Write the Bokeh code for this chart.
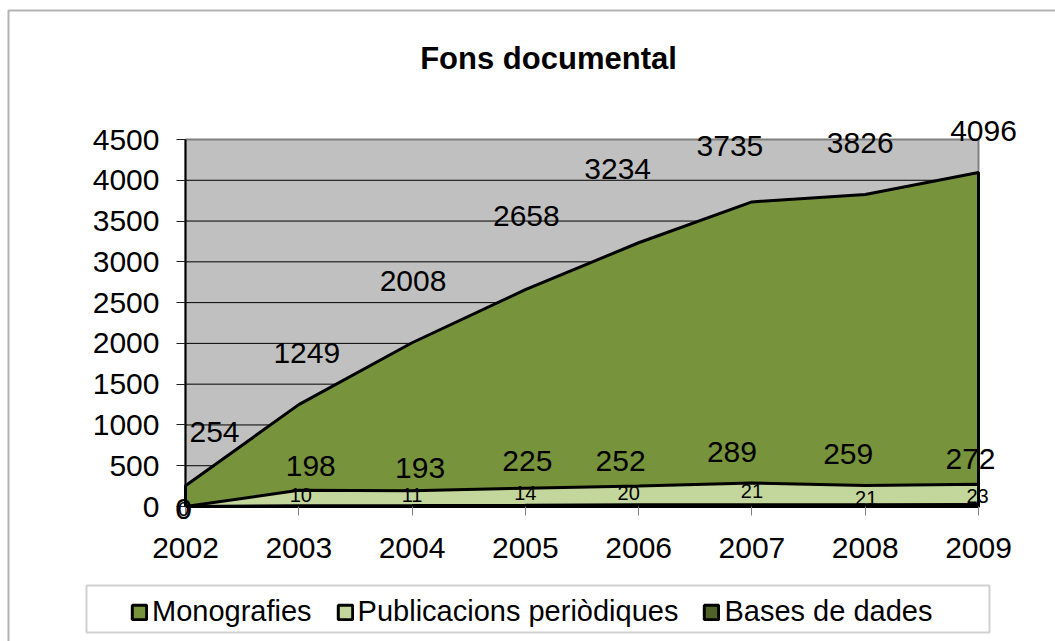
from bokeh.plotting import figure
from bokeh.models import (ColumnDataSource, FixedTicker, Legend, LegendItem,
                          LabelSet, Label, BoxAnnotation)
from bokeh.core.properties import value
from bokeh.embed import file_html
from bokeh.resources import INLINE

years = ["2002", "2003", "2004", "2005", "2006", "2007", "2008", "2009"]
monografies = [254, 1249, 2008, 2658, 3234, 3735, 3826, 4096]
publicacions = [0, 198, 193, 225, 252, 289, 259, 272]
bases = [0, 10, 11, 14, 20, 21, 21, 23]
series_names = ["Monografies", "Publicacions periòdiques", "Bases de dades"]
colors = ["#77933C", "#C3D69B", "#4F6228"]
y_ticks = [0, 500, 1000, 1500, 2000, 2500, 3000, 3500, 4000, 4500]

# label nudges in screen pixels (where the original placed its data labels)
mono_dx = [29, 8, 1, 1, -21, -22, -5, 5]
mono_dy = [54, 52, 62, 74, 74, 56, 51, 41]
publ_dx = [-2, 12, 8, 2, -18, -20, -17, -8]
publ_dy = [-2, 24, 23, 27, 25, 31, 31, 25]
base_dx = [-2, 2, 0, 0, -10, 0, 1, -1]
base_dy = [-2, 11, 11, 12, 12, 14, 7, 9]

FONT = "Liberation Sans"
idx = list(range(len(years)))
XMAX = len(years) - 1
YMAX = y_ticks[-1]

W, H = 1055, 641
# plot-area geometry in canvas pixels (used only to place decorations)
FX0, FXW, FY0, FYH = 185, 793, 506, 367
def sx(px):
    return (px - FX0) / FXW * XMAX
def sy(py):
    return (FY0 - py) / FYH * YMAX

p = figure(width=W, height=H, x_range=(sx(0), sx(W)), y_range=(sy(H), sy(0)),
           output_backend="svg", toolbar_location=None, title=None)
p.min_border = 0
p.min_border_left = 0
p.min_border_right = 0
p.min_border_top = 0
p.min_border_bottom = 0
p.background_fill_color = "white"
p.border_fill_color = "white"
p.outline_line_color = None
p.grid.visible = False

# plot area background
p.quad(left=[0], right=[XMAX], bottom=[0], top=[YMAX], fill_color="#C0C0C0",
       line_color="#808080", line_width=2)
# horizontal gridlines
grid_y = y_ticks[1:-1]
p.segment(x0=[0] * len(grid_y), x1=[XMAX] * len(grid_y), y0=grid_y, y1=grid_y,
          line_color="black", line_width=1)

renderers = []
for vals, col in zip([monografies, publicacions, bases], colors):
    xs = idx + [idx[-1], idx[0]]
    ys = list(vals) + [0, 0]
    r = p.patch(xs, ys, fill_color=col, line_color="black", line_width=3)
    renderers.append(r)

# axes fixed at the data origin
p.xaxis.fixed_location = 0
p.yaxis.fixed_location = 0
p.xaxis.bounds = (0, XMAX)
p.yaxis.bounds = (0, YMAX)
p.xaxis.ticker = FixedTicker(ticks=idx)
p.xaxis.major_label_overrides = {i: y for i, y in zip(idx, years)}
p.yaxis.ticker = FixedTicker(ticks=y_ticks)
for ax in (p.xaxis[0], p.yaxis[0]):
    ax.major_label_text_font = FONT
    ax.major_label_text_font_size = "30px"
    ax.major_label_text_color = "black"
    ax.minor_tick_line_color = None
    ax.major_tick_in = 0
    ax.major_tick_out = 9
    ax.axis_line_color = "black"
    ax.axis_line_width = 2
p.yaxis.major_label_standoff = 17
p.yaxis.major_tick_line_color = "#202020"
p.xaxis.major_tick_line_color = "#808080"
p.xaxis.major_label_standoff = 22

# data labels
def label_source(vals, dx, dy):
    return ColumnDataSource(dict(x=idx, y=vals, t=[str(v) for v in vals], dx=dx, dy=dy))

for src, size in [(label_source(monografies, mono_dx, mono_dy), "30px"),
                  (label_source(publicacions, publ_dx, publ_dy), "30px"),
                  (label_source(bases, base_dx, base_dy), "20px")]:
    p.add_layout(LabelSet(x="x", y="y", text="t", source=src,
                          x_offset="dx", y_offset="dy",
                          text_align="center", text_baseline="middle",
                          text_font=value(FONT), text_font_size=value(size),
                          text_color="black"))

# title
p.add_layout(Label(x=sx(548), y=sy(58), text="Fons documental", text_align="center",
                   text_baseline="middle", text_font=FONT, text_font_size="31px",
                   text_font_style="bold", text_color="black"))

# outer chart border and legend box
p.add_layout(BoxAnnotation(left=sx(8), right=sx(W + 50), top=sy(10), bottom=sy(H + 50),
                           fill_alpha=0, line_color="black", line_width=2))
p.add_layout(BoxAnnotation(left=sx(86), right=sx(989), top=sy(585), bottom=sy(632),
                           fill_alpha=0, line_color="#666666", line_width=2))

legend = Legend(items=[LegendItem(label=n, renderers=[r]) for n, r in zip(series_names, renderers)],
                orientation="horizontal", location=(130, 13),
                glyph_width=18, glyph_height=18, label_standoff=4, spacing=24,
                padding=6, margin=0, label_text_font=FONT, label_text_font_size="29px",
                label_text_color="black", border_line_color=None,
                background_fill_alpha=0)
p.add_layout(legend, "center")

open("out.html", "w").write(file_html(p, INLINE))
